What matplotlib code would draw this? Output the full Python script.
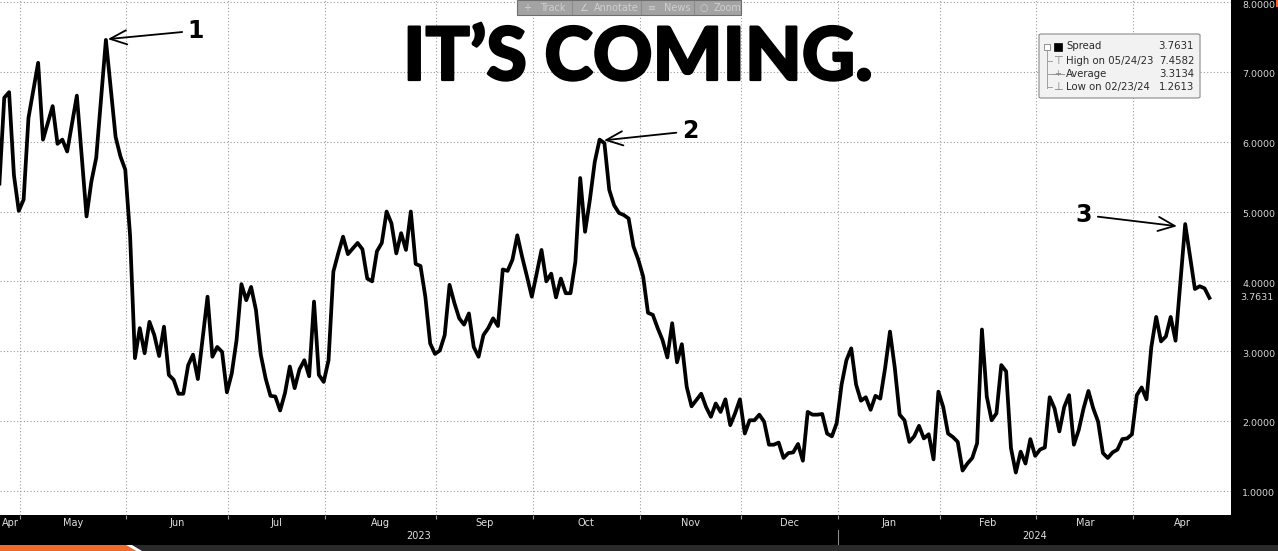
import numpy as np
import matplotlib.pyplot as plt
import matplotlib.patheffects as pe
import matplotlib.transforms as mtransforms
from matplotlib.patches import Rectangle, FancyBboxPatch, Polygon
from matplotlib.lines import Line2D

# US market holidays inside the window (trading-day axis, like the terminal chart)
HOLIDAYS = ['2023-05-29', '2023-06-19', '2023-07-04', '2023-09-04', '2023-11-23',
            '2023-12-25', '2024-01-01', '2024-01-15', '2024-02-19', '2024-03-29']

dates = [
    # Apr/May 2023
    '2023-04-24', '2023-04-25', '2023-04-26', '2023-04-27', '2023-04-28', '2023-05-01', '2023-05-02',
    '2023-05-04', '2023-05-05', '2023-05-09', '2023-05-10', '2023-05-11', '2023-05-12', '2023-05-16',
    '2023-05-18', '2023-05-19', '2023-05-22', '2023-05-24', '2023-05-26', '2023-05-30', '2023-05-31',
    # Jun
    '2023-06-01', '2023-06-02', '2023-06-05', '2023-06-06', '2023-06-07', '2023-06-08', '2023-06-09',
    '2023-06-12', '2023-06-13', '2023-06-14', '2023-06-15', '2023-06-16', '2023-06-20', '2023-06-21',
    '2023-06-22', '2023-06-26', '2023-06-27', '2023-06-28', '2023-06-29', '2023-06-30',
    # Jul
    '2023-07-03', '2023-07-05', '2023-07-06', '2023-07-07', '2023-07-10', '2023-07-11', '2023-07-12',
    '2023-07-13', '2023-07-14', '2023-07-17', '2023-07-18', '2023-07-19', '2023-07-20', '2023-07-21',
    '2023-07-24', '2023-07-25', '2023-07-26', '2023-07-27', '2023-07-28', '2023-07-31',
    # Aug
    '2023-08-01', '2023-08-02', '2023-08-03', '2023-08-04', '2023-08-07', '2023-08-08', '2023-08-09',
    '2023-08-10', '2023-08-11', '2023-08-14', '2023-08-15', '2023-08-16', '2023-08-17', '2023-08-18',
    '2023-08-21', '2023-08-22', '2023-08-23', '2023-08-24', '2023-08-25', '2023-08-28', '2023-08-29',
    '2023-08-30', '2023-08-31',
    # Sep
    '2023-09-01', '2023-09-05', '2023-09-06', '2023-09-07', '2023-09-08', '2023-09-11', '2023-09-12',
    '2023-09-13', '2023-09-14', '2023-09-15', '2023-09-18', '2023-09-19', '2023-09-20', '2023-09-21',
    '2023-09-22', '2023-09-25', '2023-09-26', '2023-09-27', '2023-09-28', '2023-09-29',
    # Oct
    '2023-10-02', '2023-10-03', '2023-10-04', '2023-10-05', '2023-10-06', '2023-10-09', '2023-10-10',
    '2023-10-11', '2023-10-12', '2023-10-13', '2023-10-16', '2023-10-17', '2023-10-18', '2023-10-19',
    '2023-10-20', '2023-10-23', '2023-10-24', '2023-10-25', '2023-10-26', '2023-10-27', '2023-10-30',
    '2023-10-31',
    # Nov
    '2023-11-01', '2023-11-02', '2023-11-03', '2023-11-06', '2023-11-07', '2023-11-08', '2023-11-09',
    '2023-11-10', '2023-11-13', '2023-11-14', '2023-11-15', '2023-11-16', '2023-11-17', '2023-11-20',
    '2023-11-21', '2023-11-22', '2023-11-24', '2023-11-27', '2023-11-28', '2023-11-29', '2023-11-30',
    # Dec
    '2023-12-01', '2023-12-04', '2023-12-05', '2023-12-06', '2023-12-07', '2023-12-08', '2023-12-11',
    '2023-12-12', '2023-12-13', '2023-12-14', '2023-12-15', '2023-12-18', '2023-12-19', '2023-12-20',
    '2023-12-21', '2023-12-22', '2023-12-26', '2023-12-27', '2023-12-28', '2023-12-29',
    # Jan 2024
    '2024-01-02', '2024-01-03', '2024-01-04', '2024-01-05', '2024-01-08', '2024-01-09', '2024-01-10',
    '2024-01-11', '2024-01-12', '2024-01-16', '2024-01-17', '2024-01-18', '2024-01-19', '2024-01-22',
    '2024-01-23', '2024-01-24', '2024-01-25', '2024-01-26', '2024-01-29', '2024-01-30', '2024-01-31',
    # Feb
    '2024-02-01', '2024-02-02', '2024-02-05', '2024-02-06', '2024-02-07', '2024-02-08', '2024-02-09',
    '2024-02-12', '2024-02-13', '2024-02-14', '2024-02-15', '2024-02-16', '2024-02-20', '2024-02-21',
    '2024-02-22', '2024-02-23', '2024-02-26', '2024-02-27', '2024-02-28', '2024-02-29',
    # Mar
    '2024-03-01', '2024-03-04', '2024-03-05', '2024-03-06', '2024-03-07', '2024-03-08', '2024-03-11',
    '2024-03-12', '2024-03-13', '2024-03-14', '2024-03-15', '2024-03-18', '2024-03-19', '2024-03-20',
    '2024-03-21', '2024-03-22', '2024-03-25', '2024-03-26', '2024-03-27', '2024-03-28',
    # Apr
    '2024-04-01', '2024-04-02', '2024-04-03', '2024-04-04', '2024-04-05', '2024-04-08', '2024-04-09',
    '2024-04-10', '2024-04-11', '2024-04-15', '2024-04-16', '2024-04-17', '2024-04-18', '2024-04-19',
    '2024-04-22',
]

spread = [
    5.40, 6.63, 6.71, 5.52, 5.01, 5.17, 6.34,
    7.13, 6.03, 6.51, 5.97, 6.03, 5.86, 6.66,
    4.93, 5.43, 5.77, 7.4582, 6.07, 5.79, 5.60,
    4.65, 2.90, 3.33, 2.97, 3.42, 3.23, 2.93,
    3.35, 2.66, 2.59, 2.39, 2.39, 2.80, 2.95,
    2.60, 3.78, 2.92, 3.06, 2.99, 2.41,
    2.68, 3.16, 3.96, 3.73, 3.92, 3.59, 2.95,
    2.61, 2.36, 2.35, 2.15, 2.40, 2.78, 2.47,
    2.74, 2.87, 2.64, 3.71, 2.66, 2.56,
    2.87, 4.14, 4.40, 4.64, 4.39, 4.47, 4.55,
    4.46, 4.04, 4.00, 4.43, 4.55, 5.00, 4.83,
    4.40, 4.69, 4.45, 5.00, 4.25, 4.22, 3.78,
    3.11, 2.96,
    3.01, 3.23, 3.95, 3.69, 3.47, 3.38, 3.54,
    3.06, 2.92, 3.23, 3.33, 3.47, 3.36, 4.17,
    4.15, 4.31, 4.66, 4.35, 4.07, 3.78,
    4.11, 4.45, 4.00, 4.11, 3.77, 4.04, 3.83,
    3.83, 4.28, 5.48, 4.71, 5.17, 5.71, 6.03,
    5.98, 5.31, 5.09, 4.98, 4.95, 4.90, 4.50,
    4.31,
    4.07, 3.55, 3.52, 3.33, 3.16, 2.91, 3.40,
    2.84, 3.10, 2.49, 2.21, 2.30, 2.39, 2.20,
    2.06, 2.25, 2.13, 2.31, 1.94, 2.11, 2.31,
    1.82, 2.01, 2.01, 2.09, 1.99, 1.66, 1.66,
    1.69, 1.47, 1.54, 1.55, 1.67, 1.43, 2.13,
    2.09, 2.09, 2.10, 1.82, 1.78, 1.97,
    2.52, 2.87, 3.04, 2.52, 2.29, 2.34, 2.16,
    2.36, 2.32, 2.76, 3.28, 2.76, 2.09, 2.01,
    1.70, 1.78, 1.93, 1.75, 1.81, 1.45, 2.42,
    2.20, 1.82, 1.77, 1.70, 1.29, 1.39, 1.47,
    1.68, 3.31, 2.35, 2.01, 2.11, 2.80, 2.71,
    1.61, 1.2613, 1.56, 1.39, 1.74, 1.50,
    1.59, 1.62, 2.34, 2.18, 1.85, 2.20, 2.37,
    1.66, 1.87, 2.18, 2.43, 2.18, 1.99, 1.54,
    1.47, 1.55, 1.59, 1.74, 1.75, 1.81,
    2.37, 2.48, 2.31, 3.06, 3.49, 3.14, 3.21,
    3.49, 3.15, 4.82, 4.35, 3.89, 3.93, 3.90,
    3.7631,
]

month_starts = ['2023-04-03', '2023-05-01', '2023-06-01', '2023-07-03', '2023-08-01', '2023-09-01',
                '2023-10-02', '2023-11-01', '2023-12-01', '2024-01-02', '2024-02-01', '2024-03-01',
                '2024-04-01', '2024-05-01']
month_labels = ['Apr', 'May', 'Jun', 'Jul', 'Aug', 'Sep', 'Oct', 'Nov', 'Dec',
                'Jan', 'Feb', 'Mar', 'Apr']
year_labels = ['2023', '2024']
year_split = '2024-01-02'

legend_rows = [('Spread', '3.7631'), ('High on 05/24/23', '7.4582'),
               ('Average', '3.3134'), ('Low on 02/23/24', '1.2613')]

W, H = 1278, 551
ORIGIN = '2023-05-01'


def px(x):
    return x / W


def py(y):
    return 1 - y / H


def tday(d):
    return np.busday_count(ORIGIN, d, holidays=HOLIDAYS)


x = tday(dates)
grid_x = tday(month_starts) - 0.75
x_lo, x_hi = -4.88, 249.46
y_lo, y_hi = 0.653, 8.03

fig = plt.figure(figsize=(W / 100, H / 100), dpi=100, facecolor='black')
ax = fig.add_axes([0, 1 - 515 / H, 1231 / W, 515 / H])
ax.set_facecolor('white')
ax.plot(x, spread, color='black', lw=2.7, solid_joinstyle='round', zorder=3)
ax.set_xlim(x_lo, x_hi)
ax.set_ylim(y_lo, y_hi)

ax.set_yticks(np.arange(1, 9))
ax.yaxis.tick_right()
ax.set_yticklabels([f'{v:.4f}' for v in range(1, 9)])
ax.tick_params(axis='y', length=0, pad=8, labelsize=6.8, labelcolor='#d6d6d6')
shift = mtransforms.ScaledTranslation(0, -2 / 100, fig.dpi_scale_trans)
for lab in ax.get_yticklabels():
    lab.set_transform(lab.get_transform() + shift)
ax.set_xticks(grid_x[1:-1])
ax.set_xticklabels([])
ax.tick_params(axis='x', length=3, width=0.8, color='#9a9a9a', direction='out')
ax.grid(True, color='#9c9c9c', linestyle=(0, (1, 2)), lw=0.8)
for s in ax.spines.values():
    s.set_visible(False)

# last value tag on the right axis
ax.text(1.0 + 9 / 1231, spread[-1], f'{spread[-1]:.4f}', transform=ax.get_yaxis_transform(),
        ha='left', va='center', fontsize=6.8, color='#d6d6d6', clip_on=False)

# month and year labels in the black band
trans = ax.get_xaxis_transform()
for i, lab in enumerate(month_labels):
    a = max(grid_x[i], x_lo)
    b = min(grid_x[i + 1], x_hi)
    ax.text((a + b) / 2, -0.005, lab, transform=trans, ha='center', va='top',
            fontsize=7, color='#e0e0e0', clip_on=False)
split = tday(year_split) - 0.75
for lab, (a, b) in zip(year_labels, [(x_lo, split), (split, x_hi)]):
    ax.text((a + b) / 2, -0.032, lab, transform=trans, ha='center', va='top',
            fontsize=7, color='#e0e0e0', clip_on=False)
ax.add_line(Line2D([split, split], [-0.03, -0.058], transform=trans, color='#8a8a8a',
                   lw=0.8, clip_on=False))

# annotations
arrow = dict(arrowstyle='->,head_length=0.7,head_width=0.3', color='black', lw=1.3,
             shrinkA=2, shrinkB=0)
ax.annotate('1', xy=(17.4, 7.47), xytext=(35.6, 7.59), fontsize=17, fontweight='bold',
            ha='center', va='center', arrowprops=arrow, zorder=5)
ax.annotate('2', xy=(119.9, 6.02), xytext=(137.7, 6.15), fontsize=17, fontweight='bold',
            ha='center', va='center', arrowprops=arrow, zorder=5)
ax.annotate('3', xy=(238.3, 4.79), xytext=(219.1, 4.95), fontsize=17, fontweight='bold',
            ha='center', va='center', arrowprops=arrow, zorder=5)

# title
fig.text(px(638), py(80), 'IT’S COMING.', ha='center', va='baseline', fontsize=53,
         family='Lato', fontweight='black', color='black',
         path_effects=[pe.withStroke(linewidth=1.6, foreground='black')])

# toolbar at the top
fig.patches.append(Rectangle((px(517), py(15)), px(224), 15 / H, transform=fig.transFigure,
                             fc='#a3a3a3', ec='#6e6e6e', lw=0.8, zorder=4))
for sx in [572, 641, 694]:
    fig.lines.append(Line2D([px(sx), px(sx)], [py(14), py(1)], transform=fig.transFigure,
                            color='#8c8c8c', lw=0.8, zorder=5))
for tx, t in [(523, '+'), (540, 'Track'), (579, '∠'), (594, 'Annotate'), (648, '≡'),
              (664, 'News'), (700, '○'), (714, 'Zoom')]:
    fig.text(px(tx), py(8), t, ha='left', va='center', fontsize=7, color='#cfcfcf', zorder=6)

# legend box
fig.patches.append(FancyBboxPatch((px(1039), py(98)), px(161), 64 / H,
                                  boxstyle='round,pad=0,rounding_size=0.002',
                                  transform=fig.transFigure, fc='#f2f2f2', ec='#8a8a8a',
                                  lw=0.8, zorder=4))
row_y = [46, 61, 74, 87]
for (lab, val), ry in zip(legend_rows, row_y):
    fig.text(px(1066), py(ry), lab, ha='left', va='center', fontsize=7.3, color='#2a2a2a', zorder=6)
    fig.text(px(1194), py(ry), val, ha='right', va='center', fontsize=7.3, color='#2a2a2a', zorder=6)
fig.patches.append(Rectangle((px(1044), py(50)), px(6), 6 / H, transform=fig.transFigure,
                             fc='white', ec='#909090', lw=0.7, zorder=5))
fig.patches.append(Rectangle((px(1054), py(51)), px(8), 8 / H, transform=fig.transFigure,
                             fc='black', ec='black', lw=0.5, zorder=5))
fig.lines.append(Line2D([px(1047)] * 2, [py(50), py(88)], transform=fig.transFigure,
                        color='#a0a0a0', lw=0.7, zorder=5))
for ry in row_y[1:]:
    fig.lines.append(Line2D([px(1047), px(1052)], [py(ry), py(ry)], transform=fig.transFigure,
                            color='#a0a0a0', lw=0.7, zorder=5))
fig.text(px(1058), py(61), '⊤', ha='center', va='center', fontsize=8, color='#808080', zorder=6)
fig.text(px(1058), py(87), '⊥', ha='center', va='center', fontsize=8, color='#808080', zorder=6)
fig.lines.append(Line2D([px(1052), px(1064)], [py(74), py(74)], transform=fig.transFigure,
                        color='#909090', lw=0.7, zorder=5))
fig.text(px(1058), py(74), '+', ha='center', va='center', fontsize=6, color='#808080', zorder=6)

# bottom strip and corner accent
fig.patches.append(Rectangle((0, 0), 1, 6 / H, transform=fig.transFigure, fc='#2a2a2a', zorder=1))
fig.patches.append(Polygon([(0, py(545)), (px(126), py(545)), (px(136), py(551)), (0, py(551))],
                           closed=True, transform=fig.transFigure, fc='#f26a2b', zorder=2))
fig.patches.append(Polygon([(px(126), py(545)), (px(132), py(545)), (px(142), py(551)),
                            (px(136), py(551))], closed=True, transform=fig.transFigure,
                           fc='white', zorder=2))
fig.patches.append(Rectangle((px(1276), py(7)), px(2), 7 / H, transform=fig.transFigure,
                             fc='#f26a2b', zorder=2))

fig.savefig('out.png', dpi=100, facecolor=fig.get_facecolor())
